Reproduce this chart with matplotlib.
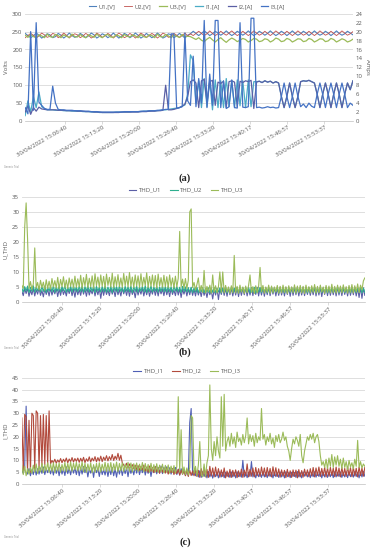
import numpy as np
import matplotlib.pyplot as plt

plt.rcParams['font.family'] = ['Open Sans', 'DejaVu Sans']

# x tick labels (same for the three panels)
time_labels = ['30/04/2022 15:06:40', '30/04/2022 15:13:20', '30/04/2022 15:20:00',
               '30/04/2022 15:26:40', '30/04/2022 15:33:20', '30/04/2022 15:40:17',
               '30/04/2022 15:46:57', '30/04/2022 15:53:37']

# ---------------- (a) voltages [V] ----------------
u1 = [245, 239, 233, 238, 246, 240, 232, 237, 244, 241, 233, 236, 245, 240, 232, 238, 246, 239, 234, 237,
      245, 240, 233, 238, 246, 241, 232, 237, 244, 240, 233, 238, 246, 239, 232, 237, 245, 241, 233, 238,
      246, 240, 232, 237, 245, 239, 233, 238, 246, 240, 232, 236, 244, 241, 233, 238, 245, 239, 232, 240,
      244, 251, 245, 239, 245, 252, 246, 239, 244, 251, 246, 240, 245, 252, 245, 239, 244, 251, 246, 240,
      245, 252, 245, 239, 244, 251, 246, 240, 245, 252, 245, 239, 244, 251, 246, 239, 245, 252, 245, 240,
      244, 251, 246, 239, 245, 252, 245, 240, 244, 251, 246, 239, 245, 252, 245, 240, 244, 251, 246, 241]
u2 = [233, 239, 245, 240, 232, 238, 246, 241, 234, 237, 245, 242, 233, 238, 246, 240, 232, 239, 244, 241,
      233, 238, 245, 240, 232, 237, 246, 241, 234, 238, 245, 240, 232, 239, 246, 241, 233, 237, 245, 240,
      232, 238, 246, 241, 233, 239, 245, 240, 232, 238, 246, 242, 234, 237, 245, 240, 233, 239, 246, 238,
      244, 239, 245, 251, 245, 239, 244, 252, 245, 239, 244, 251, 245, 240, 246, 252, 245, 239, 244, 251,
      245, 239, 245, 252, 246, 240, 244, 251, 245, 239, 245, 252, 246, 240, 244, 251, 245, 239, 245, 252,
      246, 240, 244, 251, 245, 239, 245, 252, 246, 240, 244, 251, 245, 239, 245, 252, 246, 240, 244, 250]
u3 = [240, 234, 242, 236, 233, 241, 238, 233, 243, 236, 234, 242, 239, 233, 241, 237, 234, 243, 236, 235,
      242, 236, 233, 241, 238, 234, 243, 237, 233, 240, 242, 235, 234, 241, 238, 233, 242, 237, 235, 241,
      238, 233, 242, 236, 234, 241, 239, 233, 243, 236, 235, 242, 238, 233, 241, 237, 234, 242, 236, 237,
      236, 232, 228, 233, 226, 222, 229, 234, 227, 221, 228, 233, 226, 220, 227, 232, 228, 222, 226, 231,
      228, 221, 225, 231, 229, 222, 224, 230, 228, 221, 225, 232, 229, 222, 224, 231, 228, 221, 225, 230,
      229, 222, 224, 231, 228, 221, 225, 230, 229, 222, 224, 231, 228, 221, 225, 230, 227, 221, 224, 229]

# (a) currents [A]
i1 = [1.2, 4.5, 2.0, 5.5, 3.0, 6.5, 3.2, 2.8, 2.5, 2.5, 2.5, 2.4, 2.4, 2.4, 2.3, 2.3, 2.3, 2.2, 2.2, 2.2,
      2.2, 2.1, 2.1, 2.1, 2.0, 2.0, 2.0, 1.9, 1.9, 1.9, 1.9, 1.9, 1.9, 2.0, 2.0, 2.0, 2.0, 2.0, 2.0, 2.1,
      2.1, 2.1, 2.1, 2.2, 2.2, 2.2, 2.3, 2.3, 2.3, 2.4, 2.5, 2.5, 2.6, 2.7, 2.8, 2.9, 3.0, 3.3, 3.6, 6.0,
      14.8, 13.5, 4.0, 9.0, 3.0, 9.5, 3.2, 9.0, 2.5, 9.2, 3.0, 9.0, 3.0, 9.5, 3.2, 9.0, 3.0, 9.2, 3.4, 9.0,
      3.0, 9.2, 3.2, 8.8, 8.8, 8.9, 8.6, 9.0, 8.7, 8.9, 8.5, 8.8, 8.5, 5.5, 3.0, 5.5, 8.5, 5.5, 3.0, 5.5,
      8.8, 9.0, 8.9, 9.1, 8.8, 8.5, 6.0, 3.0, 6.0, 8.5, 6.0, 3.0, 6.0, 8.5, 6.0, 3.0, 6.0, 8.5, 7.0, 9.0]
i2 = [2.0, 3.4, 1.5, 3.0, 2.2, 3.1, 2.7, 2.6, 2.5, 2.5, 2.5, 2.5, 2.4, 2.4, 2.4, 2.3, 2.3, 2.3, 2.3, 2.2,
      2.2, 2.2, 2.1, 2.1, 2.1, 2.0, 2.0, 2.0, 1.9, 1.9, 1.9, 1.9, 1.9, 1.9, 1.9, 2.0, 2.0, 2.0, 2.0, 2.0,
      2.0, 2.0, 2.1, 2.1, 2.1, 2.2, 2.2, 2.2, 2.3, 2.3, 2.4, 8.0, 2.5, 2.5, 2.6, 2.8, 3.0, 3.3, 3.8, 5.5,
      8.8, 9.2, 8.5, 3.0, 9.0, 9.3, 4.2, 8.8, 9.1, 3.5, 8.7, 8.4, 8.9, 3.0, 8.8, 9.0, 8.7, 3.2, 8.9, 8.6,
      9.0, 8.8, 9.1, 2.8, 8.7, 8.9, 8.6, 9.0, 8.7, 8.9, 8.5, 8.8, 8.5, 5.5, 3.0, 5.5, 8.5, 5.5, 3.0, 5.5,
      8.8, 9.0, 8.9, 9.1, 8.8, 8.5, 6.0, 3.0, 6.0, 8.5, 6.0, 3.0, 6.0, 8.5, 6.0, 3.0, 6.0, 8.5, 7.0, 9.0]
i3 = [3.0, 1.6, 20.0, 2.4, 22.0, 4.2, 3.5, 2.8, 2.6, 2.6, 7.8, 4.0, 2.6, 2.5, 2.5, 2.4, 2.4, 2.4, 2.3, 2.3,
      2.3, 2.2, 2.2, 2.2, 2.1, 2.1, 2.1, 2.0, 2.0, 2.0, 2.0, 2.0, 2.0, 2.0, 2.0, 2.0, 2.1, 2.1, 2.1, 2.1,
      2.1, 2.1, 2.2, 2.2, 2.2, 2.3, 2.3, 2.3, 2.4, 2.4, 2.5, 2.6, 2.6, 19.5, 19.5, 2.8, 3.0, 3.2, 19.7, 4.5,
      3.5, 14.5, 3.2, 9.5, 4.0, 22.5, 3.0, 10.5, 3.5, 22.5, 22.5, 3.0, 9.0, 2.8, 3.2, 9.2, 3.0, 2.9, 22.0, 3.1,
      3.0, 3.2, 23.0, 23.0, 3.0, 3.1, 2.9, 3.0, 3.2, 3.0, 3.1, 2.9, 3.0, 5.5, 8.5, 5.5, 3.0, 5.5, 8.5, 5.5,
      3.2, 3.8, 3.0, 4.0, 3.3, 3.0, 6.0, 8.5, 6.0, 3.0, 6.0, 8.5, 6.0, 3.0, 6.0, 8.5, 6.0, 3.0, 4.0, 3.5]

# ---------------- (b) voltage THD ----------------
thd_u1 = [3.6, 2.1, 4.4, 2.8, 4.6, 1.9, 3.9, 2.4, 4.5, 2.0, 4.1, 2.6, 4.7, 2.2, 3.8, 1.7, 4.4, 2.5, 4.2, 2.0,
          4.6, 2.3, 4.0, 2.7, 4.5, 1.8, 4.3, 2.2, 4.6, 2.5, 3.9, 2.0, 4.4, 2.8, 4.6, 2.1, 4.2, 1.6, 4.5, 2.4,
          4.1, 2.2, 4.6, 2.6, 4.3, 1.9, 4.5, 2.3, 4.0, 2.7, 4.6, 2.0, 4.3, 2.4, 4.5, 1.2, 4.4, 2.2, 4.6, 2.5,
          4.0, 2.1, 4.5, 2.6, 4.2, 1.8, 4.6, 2.4, 4.1, 2.0, 4.5, 2.7, 4.3, 2.2, 4.6, 1.9, 4.4, 2.5, 4.0, 1.4,
          4.5, 2.3, 4.2, 2.6, 4.6, 2.0, 4.3, 2.4, 4.5, 1.9, 4.1, 2.6, 4.6, 2.2, 4.4, 2.0, 4.5, 2.7, 4.2, 2.1,
          4.6, 2.4, 4.3, 1.8, 4.5, 2.5, 4.0, 2.1, 4.6, 2.3, 4.4, 1.5, 4.2, 2.6, 4.5, 2.0, 4.3, 2.4, 4.6, 2.2,
          4.2, 2.0, 4.4, 2.3, 4.0, 1.8, 4.3, 2.2, 3.9, 1.5, 4.1, 2.4, 3.8, 1.0, 4.2, 2.3, 4.5, 0.8, 4.4, 2.5,
          4.6, 2.2, 4.5, 1.9, 4.7, 2.4, 4.6, 2.0, 4.5, 2.3, 4.7, 1.8, 4.6, 2.2, 4.5, 2.4, 4.7, 2.0, 4.5, 2.3,
          4.8, 2.1, 4.6, 2.5, 4.9, 2.0, 4.7, 2.3, 4.8, 1.9, 4.6, 2.4, 4.9, 2.1, 4.7, 2.6, 4.8, 2.0, 4.6, 2.2,
          4.9, 2.3, 4.7, 2.0, 4.8, 2.5, 4.6, 1.9, 4.9, 2.2, 4.7, 2.4, 4.8, 2.0, 4.6, 2.3, 4.9, 2.1, 4.7, 2.5,
          4.8, 2.2, 4.6, 2.4, 4.9, 2.0, 4.7, 2.3, 4.8, 1.8, 4.6, 2.5, 4.9, 2.1, 4.7, 2.2, 4.8, 2.4, 4.6, 2.0,
          4.9, 2.3, 4.7, 2.1, 4.8, 2.5, 4.6, 2.0, 4.9, 2.2, 4.7, 2.4, 4.8, 2.0, 4.6, 1.5, 4.9, 1.2, 4.7, 2.2]
thd_u2 = [4.6, 3.3, 5.1, 3.6, 5.3, 3.1, 4.9, 3.5, 5.4, 3.2, 5.0, 3.7, 5.2, 3.3, 5.1, 3.5, 5.3, 3.1, 4.9, 3.6,
          5.1, 3.4, 5.4, 3.2, 5.0, 3.6, 5.3, 3.3, 5.1, 3.7, 5.4, 3.2, 4.9, 3.5, 5.2, 3.3, 5.3, 3.6, 5.0, 3.4,
          5.2, 3.5, 5.3, 3.2, 5.1, 3.6, 5.4, 3.3, 5.0, 3.5, 5.3, 3.1, 5.2, 3.6, 4.9, 3.3, 5.1, 3.5, 5.3, 3.2,
          5.0, 3.4, 5.2, 3.1, 5.4, 3.6, 5.1, 3.3, 5.3, 3.5, 4.9, 3.2, 5.2, 3.6, 5.0, 3.4, 5.3, 3.1, 5.1, 3.5,
          5.3, 3.2, 5.0, 3.6, 5.2, 3.4, 5.4, 3.1, 5.1, 3.5, 5.3, 3.3, 4.9, 3.6, 5.2, 3.2, 5.0, 3.5, 5.3, 3.4,
          5.1, 3.3, 5.3, 3.5, 5.0, 3.2, 5.2, 3.6, 5.1, 3.4, 4.9, 3.1, 5.2, 3.5, 5.0, 3.3, 4.8, 3.2, 4.9, 3.1,
          4.7, 3.3, 4.9, 3.0, 4.6, 3.4, 4.8, 3.1, 4.5, 3.3, 4.7, 3.0, 4.6, 3.2, 4.8, 3.1, 4.5, 3.3, 4.7, 3.0,
          4.6, 3.2, 4.8, 3.0, 4.5, 3.3, 4.7, 3.1, 4.6, 3.2, 4.8, 3.0, 4.5, 3.3, 4.7, 3.1, 4.6, 3.2, 4.8, 3.0,
          4.7, 3.3, 4.9, 3.0, 4.6, 3.4, 4.8, 3.1, 4.5, 3.3, 4.7, 3.0, 4.6, 3.2, 4.8, 3.1, 4.5, 3.3, 4.7, 3.0,
          4.6, 3.2, 4.8, 3.0, 4.5, 3.3, 4.7, 3.1, 4.6, 3.2, 4.8, 3.0, 4.5, 3.3, 4.7, 3.1, 4.6, 3.2, 4.8, 3.0,
          4.7, 3.1, 4.6, 3.3, 4.8, 3.0, 4.5, 3.2, 4.7, 3.1, 4.6, 3.3, 4.8, 3.0, 4.5, 3.2, 4.7, 3.1, 4.6, 3.3,
          4.8, 3.0, 4.6, 3.2, 4.7, 3.1, 4.5, 3.3, 4.8, 3.0, 4.6, 3.2, 4.7, 3.1, 4.5, 3.3, 4.8, 3.0, 4.6, 3.2]
thd_u3 = [5.5, 4.5, 25.0, 33.0, 21.0, 4.5, 6.8, 4.2, 6.0, 18.0, 4.6, 6.5, 4.0, 7.2, 4.8, 6.6, 3.9, 7.4, 4.5, 6.9,
          4.3, 7.8, 5.0, 7.1, 4.6, 8.2, 4.4, 7.5, 5.1, 8.4, 4.8, 7.3, 4.5, 8.0, 5.2, 7.6, 4.7, 8.6, 4.9, 7.7,
          5.0, 8.9, 4.6, 8.1, 5.3, 9.2, 4.8, 7.9, 5.1, 8.7, 4.6, 9.4, 5.4, 8.3, 4.9, 9.0, 5.2, 8.5, 4.7, 9.3,
          5.5, 8.2, 5.0, 9.6, 4.8, 8.4, 5.3, 9.1, 5.1, 8.0, 4.9, 9.5, 5.4, 8.6, 5.0, 9.8, 5.2, 8.3, 4.8, 9.0,
          5.3, 8.7, 4.9, 9.4, 5.1, 8.2, 5.5, 9.7, 4.8, 8.5, 5.2, 9.0, 5.0, 8.8, 4.7, 9.3, 5.3, 8.1, 4.9, 8.9,
          5.1, 8.4, 4.8, 9.0, 5.2, 8.0, 4.7, 8.6, 5.0, 7.9, 23.5, 5.0, 7.6, 4.6, 7.8, 4.5, 7.2, 30.0, 31.0, 4.8,
          6.5, 4.0, 5.8, 8.0, 3.5, 5.5, 3.2, 10.5, 3.0, 5.2, 3.4, 5.6, 2.9, 9.0, 3.3, 5.4, 3.0, 5.1, 10.0, 3.2,
          10.0, 3.0, 5.5, 3.3, 5.0, 2.8, 5.4, 3.1, 15.5, 3.0, 5.2, 2.9, 5.6, 3.3, 5.0, 2.8, 5.3, 3.1, 5.5, 9.0,
          3.2, 5.1, 2.8, 5.4, 3.0, 5.2, 11.5, 3.4, 5.5, 2.9, 5.0, 3.2, 5.6, 2.8, 5.3, 3.1, 5.0, 3.3, 5.5, 2.9,
          5.2, 3.0, 5.6, 3.2, 5.1, 2.8, 5.4, 3.3, 5.0, 3.1, 5.7, 2.9, 5.3, 3.2, 5.5, 3.0, 5.2, 2.8, 5.6, 3.3,
          5.1, 3.0, 5.4, 3.2, 5.8, 2.9, 5.2, 3.1, 5.6, 3.3, 5.0, 2.8, 5.5, 3.2, 5.3, 3.0, 5.9, 3.1, 5.2, 2.9,
          5.6, 3.2, 5.3, 3.0, 5.7, 3.3, 5.1, 2.9, 5.5, 3.2, 5.8, 3.0, 5.4, 3.3, 6.0, 3.1, 5.6, 4.0, 7.0, 8.0]

# ---------------- (c) current THD ----------------
thd_i1 = [6.0, 4.5, 7.0, 33.0, 4.2, 6.5, 3.5, 6.0, 4.0, 7.0, 3.8, 6.5, 4.2, 6.8, 4.5, 7.2, 4.0, 6.5, 4.8, 7.0,
          4.3, 6.6, 3.8, 7.2, 4.5, 6.8, 3.5, 7.0, 4.2, 6.5, 3.6, 7.3, 4.4, 6.7, 3.9, 7.1, 4.6, 6.8, 4.0, 7.2,
          3.5, 6.9, 4.2, 7.4, 4.8, 7.0, 3.0, 6.5, 4.6, 6.8, 2.8, 7.2, 4.8, 6.5, 3.2, 6.9, 4.0, 6.2, 3.8, 6.8,
          3.2, 6.6, 4.0, 7.0, 3.5, 6.4, 2.9, 6.8, 4.2, 7.1, 3.6, 6.5, 4.4, 6.9, 3.1, 7.0, 4.5, 6.6, 3.9, 7.2,
          4.6, 7.3, 4.0, 6.8, 4.8, 7.5, 3.8, 6.9, 4.5, 7.2, 3.2, 6.7, 4.9, 7.4, 4.3, 7.0, 4.7, 7.6, 4.4, 7.1,
          5.0, 7.3, 4.6, 6.9, 4.2, 6.6, 4.8, 7.0, 4.0, 6.3, 3.8, 6.5, 4.4, 6.1, 3.6, 5.9, 3.5, 26.0, 32.0, 3.8,
          5.8, 3.5, 5.4, 3.0, 5.6, 2.8, 5.2, 3.2, 5.0, 2.6, 5.3, 3.0, 4.8, 2.5, 5.1, 3.1, 4.7, 2.6, 5.2, 3.0,
          4.9, 2.7, 5.0, 3.2, 4.6, 2.8, 5.1, 3.0, 4.8, 2.6, 5.2, 3.1, 4.7, 2.9, 10.0, 3.0, 4.8, 2.7, 5.0, 3.2,
          9.5, 3.0, 4.8, 2.6, 5.0, 3.1, 4.7, 2.8, 5.2, 3.0, 4.9, 2.7, 5.1, 3.2, 4.8, 2.6, 5.0, 3.1, 4.7, 2.8,
          5.1, 3.0, 4.9, 2.6, 5.2, 3.1, 4.8, 2.7, 5.0, 3.2, 4.9, 2.8, 5.3, 3.0, 4.7, 2.6, 5.1, 3.3, 4.9, 3.0,
          5.0, 2.7, 4.8, 3.1, 5.2, 2.9, 4.7, 3.2, 5.1, 2.6, 4.9, 3.0, 5.3, 2.8, 4.8, 3.1, 5.0, 2.7, 5.2, 3.0,
          4.9, 3.2, 5.1, 2.8, 4.7, 3.0, 5.2, 2.7, 5.0, 3.1, 4.8, 2.9, 5.3, 3.2, 4.9, 2.6, 5.1, 3.0, 5.4, 3.3]
thd_i2 = [28.0, 5.5, 29.5, 28.5, 6.0, 27.0, 5.0, 30.0, 29.0, 6.5, 31.0, 30.0, 7.0, 29.0, 8.0, 29.5, 8.2, 29.0, 8.0, 31.0,
          8.5, 10.0, 9.0, 10.5, 8.8, 10.2, 9.2, 10.8, 9.0, 10.5, 9.4, 11.0, 9.0, 10.6, 9.5, 11.2, 9.3, 10.8, 9.6, 11.0,
          9.2, 10.9, 9.5, 11.3, 9.1, 10.7, 9.6, 11.5, 9.3, 11.0, 9.8, 11.6, 9.4, 11.2, 9.7, 11.8, 9.5, 11.4, 10.0, 12.0,
          9.8, 11.6, 10.2, 12.5, 10.0, 11.8, 10.4, 13.0, 10.1, 12.2, 9.0, 8.0, 7.2, 8.8, 6.8, 8.5, 7.0, 8.2, 6.5, 8.0,
          6.2, 7.8, 5.8, 7.5, 6.0, 8.0, 5.5, 7.2, 5.0, 7.6, 5.4, 7.0, 4.8, 7.3, 5.2, 6.8, 4.5, 7.1, 5.0, 6.5,
          4.6, 6.8, 4.2, 6.2, 4.8, 6.5, 4.0, 6.0, 4.4, 6.2, 3.8, 5.8, 4.1, 5.5, 3.5, 6.0, 3.2, 5.8, 3.6, 5.5,
          3.5, 6.0, 3.2, 5.8, 2.8, 6.5, 3.5, 7.0, 3.0, 6.2, 2.8, 7.5, 3.4, 6.8, 3.0, 7.2, 3.5, 6.5, 2.9, 6.0,
          3.2, 6.8, 2.6, 5.5, 3.0, 6.2, 2.8, 5.8, 3.3, 6.0, 2.7, 5.6, 3.1, 6.3, 2.8, 5.9, 3.4, 8.5, 3.0, 6.2,
          3.3, 6.8, 3.0, 7.0, 3.5, 6.5, 3.2, 7.2, 3.6, 6.8, 3.1, 7.0, 3.4, 6.6, 3.0, 7.3, 3.5, 6.9, 3.2, 6.4,
          2.9, 6.0, 3.3, 5.8, 2.7, 6.2, 3.1, 5.6, 2.8, 6.0, 3.2, 5.9, 2.6, 6.1, 3.0, 5.7, 2.9, 6.3, 3.4, 6.0,
          3.1, 6.5, 3.4, 7.0, 3.0, 6.8, 3.6, 7.2, 3.2, 6.6, 3.5, 7.1, 3.0, 6.9, 3.3, 7.0, 3.6, 6.7, 3.1, 7.2,
          3.4, 6.8, 3.0, 7.0, 3.5, 6.6, 3.2, 7.3, 3.6, 6.9, 3.1, 7.1, 3.4, 6.7, 3.0, 7.2, 3.5, 6.8, 3.3, 7.0]
thd_i3 = [8.0, 4.0, 7.5, 3.5, 6.5, 4.2, 7.0, 4.5, 8.0, 5.0, 8.5, 4.5, 7.6, 5.2, 8.8, 4.8, 8.2, 5.5, 9.0, 5.0,
          8.5, 5.3, 9.0, 4.8, 8.6, 5.5, 8.9, 5.0, 8.3, 5.6, 9.1, 5.2, 8.7, 5.8, 9.3, 5.4, 8.8, 6.0, 9.2, 5.5,
          8.6, 5.8, 9.4, 5.2, 8.8, 5.0, 8.5, 5.6, 8.9, 4.8, 8.2, 5.0, 8.7, 5.4, 9.0, 5.1, 8.4, 5.7, 9.2, 5.3,
          8.8, 5.5, 9.1, 5.0, 8.6, 5.8, 9.3, 5.2, 8.7, 5.6, 9.0, 5.3, 8.5, 5.9, 9.2, 5.4, 8.9, 5.1, 8.6, 5.7,
          8.9, 5.3, 8.4, 5.8, 9.1, 5.2, 8.7, 5.5, 8.3, 5.0, 8.8, 5.4, 8.2, 5.1, 8.6, 4.9, 8.0, 5.3, 8.4, 4.7,
          7.9, 5.0, 8.1, 4.6, 7.6, 4.9, 7.8, 4.5, 7.4, 37.0, 5.0, 23.0, 4.2, 7.2, 4.0, 6.8, 3.8, 7.0, 29.0, 28.0,
          4.5, 7.5, 3.5, 8.0, 18.0, 4.0, 3.0, 8.5, 3.2, 9.0, 12.0, 42.0, 15.0, 10.0, 18.0, 12.0, 20.0, 14.0, 11.0, 37.0,
          16.0, 38.0, 14.0, 18.0, 20.0, 16.0, 21.5, 17.0, 20.0, 15.5, 22.0, 18.0, 19.5, 16.5, 21.0, 17.5, 20.5, 28.0, 17.0, 21.0,
          18.0, 20.5, 16.0, 21.5, 17.5, 20.0, 18.5, 32.0, 19.0, 21.0, 16.5, 20.0, 18.0, 21.5, 17.0, 19.5, 15.5, 20.5, 18.0, 21.0,
          17.5, 19.0, 22.0, 18.5, 20.0, 16.0, 14.0, 10.0, 15.0, 19.0, 17.0, 20.0, 18.5, 16.0, 21.0, 12.0, 9.0, 14.0, 17.0, 20.0,
          18.5, 21.0, 19.0, 21.5, 17.5, 20.0, 21.0, 18.0, 12.0, 8.0, 9.5, 7.0, 10.5, 6.5, 11.0, 7.5, 12.5, 7.0, 11.5, 8.0,
          12.0, 7.5, 10.5, 6.5, 11.0, 7.0, 9.5, 6.0, 10.0, 7.2, 9.0, 6.5, 10.5, 7.5, 18.5, 7.0, 9.5, 6.8, 8.5, 7.5]

txt_col = '#595959'
grid_col = '#D9D9D9'
fs = 4.3
lw_band = 0.8

fig = plt.figure(figsize=(3.7, 5.5), dpi=100)


def style_axis(ax, n, first, step, rot):
    ax.set_xlim(0, n - 1)
    ax.set_xticks((first + step * np.arange(len(time_labels))) * (n - 1))
    ax.set_xticklabels(time_labels, rotation=rot, ha='right', va='top',
                       rotation_mode='anchor', fontsize=fs, color=txt_col)
    ax.tick_params(axis='x', length=2, width=0.4, color='#BFBFBF', pad=1)
    ax.tick_params(axis='y', length=0, labelsize=fs, labelcolor=txt_col, pad=2)
    ax.grid(axis='y', color=grid_col, linewidth=0.6)
    ax.set_axisbelow(True)
    for s in ['top', 'left', 'right']:
        ax.spines[s].set_visible(False)
    ax.spines['bottom'].set_color('#BFBFBF')
    ax.spines['bottom'].set_linewidth(0.5)


# ---- panel (a)
ax1 = fig.add_axes([0.068, 0.78, 0.886, 0.195])
ax1.plot(np.arange(len(u1)), u1, color='#4F81BD', lw=0.8, label='U1,[V]')
ax1.plot(np.arange(len(u2)), u2, color='#C0504D', lw=0.6, label='U2,[V]')
ax1.plot(np.arange(len(u3)), u3, color='#9BBB59', lw=0.9, label='U3,[V]')
ax1.set_ylim(0, 300)
ax1.set_yticks(np.arange(0, 301, 50))
ax1.set_ylabel('Volts', fontsize=fs, color=txt_col, labelpad=2)
style_axis(ax1, len(u1), 0.122, 0.113, 30)

ax1r = ax1.twinx()
ax1r.plot(np.arange(len(i1)), i1, color='#4BACC6', lw=0.9, label='I1,[A]')
ax1r.plot(np.arange(len(i2)), i2, color='#5A5FA5', lw=0.9, label='I2,[A]')
ax1r.plot(np.arange(len(i3)), i3, color='#4472C4', lw=0.9, label='I3,[A]')
ax1r.set_ylim(0, 24)
ax1r.set_yticks(np.arange(0, 25, 2))
ax1r.tick_params(axis='y', length=0, labelsize=fs, labelcolor=txt_col, pad=2)
ax1r.set_ylabel('Amps', fontsize=fs, color=txt_col, rotation=270, labelpad=5)
for s in ['top', 'left', 'right', 'bottom']:
    ax1r.spines[s].set_visible(False)

h1, l1 = ax1.get_legend_handles_labels()
h2, l2 = ax1r.get_legend_handles_labels()
fig.legend(h1 + h2, l1 + l2, loc='center', bbox_to_anchor=(187 / 370, 1 - 7 / 550), ncol=6,
           frameon=False, fontsize=fs, handlelength=1.3, handletextpad=0.4, columnspacing=1.4,
           labelcolor=txt_col)

# ---- panel (b)
ax2 = fig.add_axes([0.059, 0.451, 0.927, 0.191])
ax2.plot(np.arange(len(thd_u1)), thd_u1, color='#5B5EA6', lw=lw_band, label='THD_U1')
ax2.plot(np.arange(len(thd_u2)), thd_u2, color='#2EAF8F', lw=lw_band, label='THD_U2')
ax2.plot(np.arange(len(thd_u3)), thd_u3, color='#9BBB59', lw=lw_band, label='THD_U3')
ax2.set_ylim(0, 35)
ax2.set_yticks(np.arange(0, 36, 5))
ax2.set_ylabel('U_THD', fontsize=fs, color=txt_col, labelpad=3)
style_axis(ax2, len(thd_u1), 0.117, 0.111, 45)
ax2.legend(loc='center', bbox_to_anchor=(186 / 370, 1 - 190 / 550), bbox_transform=fig.transFigure,
           ncol=3, frameon=False, fontsize=fs, handlelength=1.3, handletextpad=0.4,
           columnspacing=1.4, labelcolor=txt_col)

# ---- panel (c)
ax3 = fig.add_axes([0.059, 0.12, 0.927, 0.193])
ax3.plot(np.arange(len(thd_i1)), thd_i1, color='#4F5FB5', lw=lw_band, label='THD_I1')
ax3.plot(np.arange(len(thd_i2)), thd_i2, color='#B24A3C', lw=lw_band, label='THD_I2')
ax3.plot(np.arange(len(thd_i3)), thd_i3, color='#9BBB59', lw=lw_band, label='THD_I3')
ax3.set_ylim(0, 45)
ax3.set_yticks(np.arange(0, 46, 5))
ax3.set_ylabel('I_THD', fontsize=fs, color=txt_col, labelpad=3)
style_axis(ax3, len(thd_i1), 0.117, 0.111, 40)
ax3.legend(loc='center', bbox_to_anchor=(187 / 370, 1 - 371 / 550), bbox_transform=fig.transFigure,
           ncol=3, frameon=False, fontsize=fs, handlelength=1.3, handletextpad=0.4,
           columnspacing=1.4, labelcolor=txt_col)

# captions and the little watermark of the charting tool
for cap, yy in [('(a)', 178), ('(b)', 352), ('(c)', 542)]:
    fig.text(0.5, 1 - yy / 550, cap, ha='center', va='center', fontsize=7.5,
             family='Liberation Serif', weight='bold', color='#222222')
for yy in [167, 348, 537]:
    fig.text(4 / 370, 1 - yy / 550, 'Generic Trial', fontsize=1.8, color='#888888', va='center')

plt.savefig('out.png', dpi=100)
